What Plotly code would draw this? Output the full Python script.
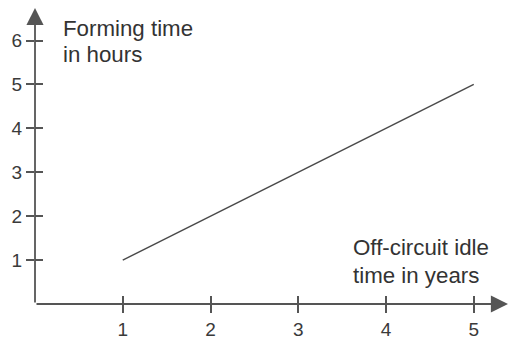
import plotly.graph_objects as go

# ---- data ----
idle_years = [1, 5]
forming_hours = [1, 5]
x_tick_vals = [1, 2, 3, 4, 5]
x_tick_text = ["1", "2", "3", "4", "5"]
y_tick_vals = [1, 2, 3, 4, 5, 6]
y_tick_text = ["1", "2", "3", "4", "5", "6"]
y_title_lines = ["Forming time", "in hours"]
x_title_lines = ["Off-circuit idle", "time in years"]

# ---- layout constants ----
W, H = 510, 340
ML, MB = 35, 34
X_MAX = (W - ML) / 87.75
Y_MAX = (H - MB) / 44.2
FONT = "Liberation Sans, Arial, sans-serif"
AX_COL = "#555555"
TXT_COL = "#333333"

fig = go.Figure()
fig.add_trace(go.Scatter(
    x=idle_years, y=forming_hours, mode="lines",
    line=dict(color="#4a4a4a", width=1.5),
    showlegend=False, hoverinfo="skip",
))
# empty trace so the overlaying axes (inner halves of the crossing ticks) exist
fig.add_trace(go.Scatter(x=[], y=[], xaxis="x2", yaxis="y2", showlegend=False, hoverinfo="skip"))

tick_font = dict(family=FONT, size=19, color="#3a3a3a")
base = dict(showgrid=False, zeroline=False, showline=False, fixedrange=True,
            ticklen=8, tickwidth=1.5, tickcolor=AX_COL, tickfont=tick_font)

fig.update_layout(
    width=W, height=H,
    margin=dict(l=ML, r=0, t=0, b=MB, pad=0),
    paper_bgcolor="white", plot_bgcolor="white",
    showlegend=False,
    xaxis=dict(range=[0, X_MAX], tickvals=x_tick_vals, ticktext=x_tick_text,
               ticks="outside", **base),
    yaxis=dict(range=[0, Y_MAX], tickvals=y_tick_vals, ticktext=y_tick_text,
               ticks="outside", **base),
    xaxis2=dict(range=[0, X_MAX], tickvals=x_tick_vals, overlaying="x", anchor="y",
                side="bottom", ticks="inside", showticklabels=False, **base),
    yaxis2=dict(range=[0, Y_MAX], tickvals=y_tick_vals, overlaying="y", anchor="x",
                side="left", ticks="inside", showticklabels=False, **base),
)

# axis lines with arrowheads
arrow = dict(xref="x", yref="y", axref="x", ayref="y", text="", showarrow=True,
             arrowhead=2, arrowsize=1.9, arrowwidth=1.8, arrowcolor=AX_COL, standoff=0)
fig.add_annotation(x=(508 - ML) / 87.75, y=0, ax=0, ay=0, **arrow)
fig.add_annotation(x=0, y=(H - MB - 8) / 44.2, ax=0, ay=0, **arrow)

# titles
title_font = dict(family=FONT, size=22.3, color=TXT_COL)
fig.add_annotation(x=0.30, y=6.267, xref="x", yref="y", text=y_title_lines[0],
                   showarrow=False, xanchor="left", yanchor="middle", font=title_font)
fig.add_annotation(x=0.30, y=5.679, xref="x", yref="y", text=y_title_lines[1],
                   showarrow=False, xanchor="left", yanchor="middle", font=title_font)
fig.add_annotation(x=3.60, y=1.29, xref="x", yref="y", text=x_title_lines[0],
                   showarrow=False, xanchor="left", yanchor="middle", font=title_font)
fig.add_annotation(x=3.60, y=0.656, xref="x", yref="y", text=x_title_lines[1],
                   showarrow=False, xanchor="left", yanchor="middle", font=title_font)

fig.write_html("out.html", config={"displayModeBar": False},
               post_script="document.body.style.margin='0';document.body.style.padding='0';")
